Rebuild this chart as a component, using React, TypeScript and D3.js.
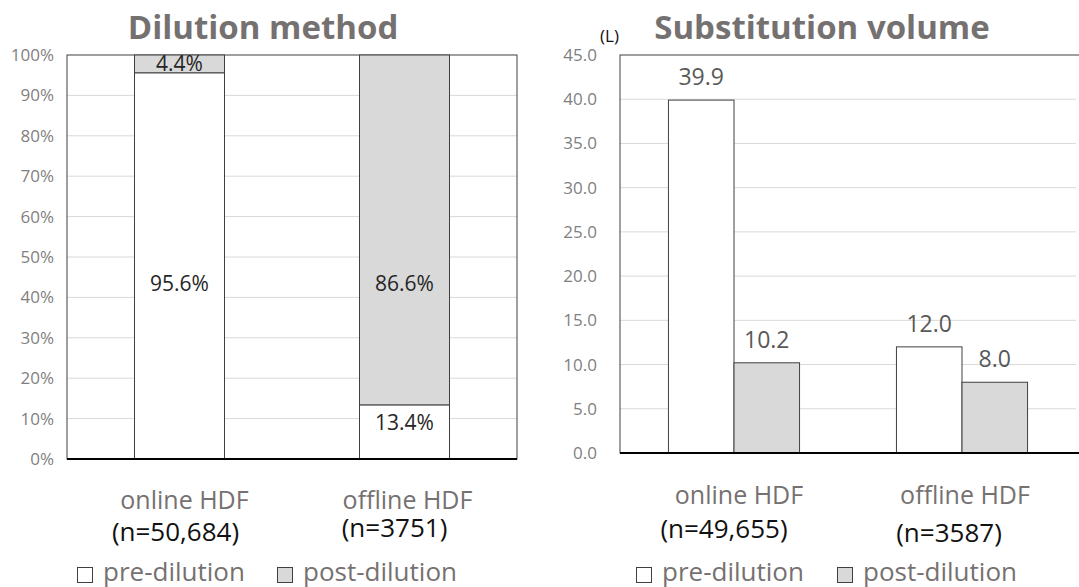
import React from "react";
import * as d3 from "d3";

const dilCategories = ["online HDF", "offline HDF"];
const dilN = ["(n=50,684)", "(n=3751)"];
const dilPre = [95.6, 13.4];
const dilPost = [4.4, 86.6];
const dilTicks = [0, 10, 20, 30, 40, 50, 60, 70, 80, 90, 100];

const volCategories = ["online HDF", "offline HDF"];
const volN = ["(n=49,655)", "(n=3587)"];
const volPre = [39.9, 12.0];
const volPost = [10.2, 8.0];
const volTicks = [0, 5, 10, 15, 20, 25, 30, 35, 40, 45];

const seriesNames = ["pre-dilution", "post-dilution"];

const FONT = "'Open Sans', 'Noto Sans', sans-serif";
const GRAY = "#767171";
const TICK = "#7f7f7f";
const DARK = "#262626";
const FILL_POST = "#d9d9d9";
const STROKE = "#404040";

function Legend({ x1, x2 }: { x1: number; x2: number }) {
  const items = [x1, x2];
  return (
    <g>
      {seriesNames.map((s, i) => (
        <g key={s} transform={`translate(${items[i]},567)`}>
          <rect x={0.5} y={0.5} width={15} height={15} fill={i === 0 ? "#fff" : FILL_POST} stroke={STROKE} strokeWidth={1} />
          <text x={26} y={13.5} fontSize={26} fill={GRAY} fontFamily={FONT}>{s}</text>
        </g>
      ))}
    </g>
  );
}

function DilutionChart() {
  const left = 67, right = 517, top = 55, bottom = 459;
  const x = d3.scaleBand().domain(dilCategories).range([left, right]).paddingInner(0.6).paddingOuter(0.3);
  const y = d3.scaleLinear().domain([0, 100]).range([bottom, top]);
  const bw = x.bandwidth();
  const labelY = [y(43.5), y(43.5)];
  const nY = [541, 537];
  const catDx = [5, 3];
  const nDx = [-4, -10];
  return (
    <g>
      <text x={263} y={39} textAnchor="middle" fontSize={33} fontWeight={700} fill={GRAY} fontFamily={FONT}>Dilution method</text>
      {dilTicks.map((t) => (
        <g key={t}>
          {t > 0 && t < 100 && <line x1={left} x2={right} y1={y(t)} y2={y(t)} stroke="#d9d9d9" strokeWidth={1} />}
          <text x={54} y={y(t) + 6} textAnchor="end" fontSize={17} fill={TICK} fontFamily={FONT}>{t}%</text>
        </g>
      ))}
      <rect x={left} y={top} width={right - left} height={bottom - top} fill="none" stroke={STROKE} strokeWidth={1} />
      {dilCategories.map((c, i) => {
        const bx = x(c)!;
        return (
          <g key={c}>
            <rect x={bx} y={y(dilPre[i])} width={bw} height={y(0) - y(dilPre[i])} fill="#fff" stroke={STROKE} strokeWidth={1} />
            <rect x={bx} y={y(dilPre[i] + dilPost[i])} width={bw} height={y(dilPre[i]) - y(dilPre[i] + dilPost[i])} fill={FILL_POST} stroke={STROKE} strokeWidth={1} />
          </g>
        );
      })}
      <line x1={left} x2={right} y1={bottom} y2={bottom} stroke="#000" strokeWidth={2} />
      <text x={x(dilCategories[0])! + bw / 2} y={(y(dilPre[0]) + y(100)) / 2 + 7.5} textAnchor="middle" fontSize={21} fill={DARK} fontFamily={FONT}>{dilPost[0].toFixed(1)}%</text>
      <text x={x(dilCategories[0])! + bw / 2} y={labelY[0] + 7.5} textAnchor="middle" fontSize={21} fill={DARK} fontFamily={FONT}>{dilPre[0].toFixed(1)}%</text>
      <text x={x(dilCategories[1])! + bw / 2} y={labelY[1] + 7.5} textAnchor="middle" fontSize={21} fill={DARK} fontFamily={FONT}>{dilPost[1].toFixed(1)}%</text>
      <text x={x(dilCategories[1])! + bw / 2} y={y(dilPre[1] / 2) - 2} textAnchor="middle" fontSize={21} fill={DARK} fontFamily={FONT}>{dilPre[1].toFixed(1)}%</text>
      {dilCategories.map((c, i) => (
        <g key={c}>
          <text x={x(c)! + bw / 2 + catDx[i]} y={509} textAnchor="middle" fontSize={25} fill={GRAY} fontFamily={FONT}>{c}</text>
          <text x={x(c)! + bw / 2 + nDx[i]} y={nY[i]} textAnchor="middle" fontSize={26} fill="#111" fontFamily={FONT}>{dilN[i]}</text>
        </g>
      ))}
      <Legend x1={77} x2={277} />
    </g>
  );
}

function VolumeChart() {
  const left = 620, right = 1076, top = 55, bottom = 453;
  const x0 = d3.scaleBand().domain(volCategories).range([left, right]).paddingInner(0.425).paddingOuter(0.2125);
  const x1 = d3.scaleBand().domain(seriesNames).range([0, x0.bandwidth()]);
  const y = d3.scaleLinear().domain([0, 45]).range([bottom, top]);
  const nY = [538, 542];
  const catDx = [5, 3];
  const nDx = [-10, -13];
  const series = [volPre, volPost];
  return (
    <g>
      <text x={822} y={39} textAnchor="middle" fontSize={33} fontWeight={700} fill={GRAY} fontFamily={FONT}>Substitution volume</text>
      <text x={600} y={42} fontSize={17} fill="#111" fontFamily={FONT}>(L)</text>
      {volTicks.map((t) => (
        <g key={t}>
          {t > 0 && t < 45 && <line x1={left} x2={right} y1={y(t)} y2={y(t)} stroke="#d9d9d9" strokeWidth={1} />}
          <text x={597} y={y(t) + 6} textAnchor="end" fontSize={17} fill={TICK} fontFamily={FONT}>{t.toFixed(1)}</text>
        </g>
      ))}
      <rect x={left} y={top} width={right - left + 10} height={bottom - top} fill="none" stroke={STROKE} strokeWidth={1} />
      {volCategories.map((c, i) => (
        <g key={c}>
          {seriesNames.map((s, j) => {
            const v = series[j][i];
            const bx = x0(c)! + x1(s)!;
            return (
              <g key={s}>
                <rect x={bx} y={y(v)} width={x1.bandwidth()} height={y(0) - y(v)} fill={j === 0 ? "#fff" : FILL_POST} stroke={STROKE} strokeWidth={1} />
                <text x={bx + x1.bandwidth() / 2} y={y(v) - 15} textAnchor="middle" fontSize={23} fill="#595959" fontFamily={FONT}>{v.toFixed(1)}</text>
              </g>
            );
          })}
        </g>
      ))}
      <line x1={left} x2={1079} y1={bottom} y2={bottom} stroke="#000" strokeWidth={2} />
      {volCategories.map((c, i) => (
        <g key={c}>
          <text x={x0(c)! + x0.bandwidth() / 2 + catDx[i]} y={504} textAnchor="middle" fontSize={25} fill={GRAY} fontFamily={FONT}>{c}</text>
          <text x={x0(c)! + x0.bandwidth() / 2 + nDx[i]} y={nY[i]} textAnchor="middle" fontSize={26} fill="#111" fontFamily={FONT}>{volN[i]}</text>
        </g>
      ))}
      <Legend x1={636} x2={837} />
    </g>
  );
}

export default function App() {
  return (
    <svg width={1079} height={587} style={{ position: "absolute", left: 0, top: 0, background: "#fff" }}>
      <rect width={1079} height={587} fill="#fff" />
      <DilutionChart />
      <VolumeChart />
    </svg>
  );
}
